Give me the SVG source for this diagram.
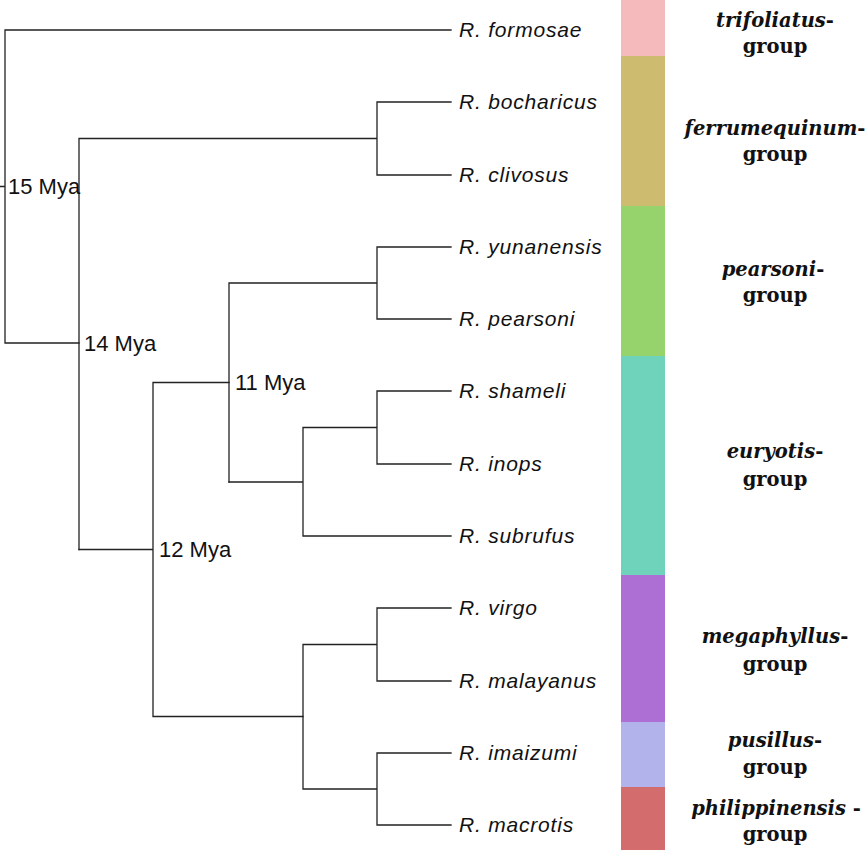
<svg xmlns="http://www.w3.org/2000/svg" width="867" height="850" viewBox="0 0 867 850">
<style>
.e{stroke:#222;stroke-width:1.3;fill:none;stroke-linecap:square}
.tip{font-family:"Liberation Sans",Arial,sans-serif;font-style:italic;font-size:21px;letter-spacing:0.8px;fill:#111}
.age{font-family:"Liberation Sans",Arial,sans-serif;font-size:22px;fill:#111}
.grp{font-family:"DejaVu Serif",serif;font-weight:bold;font-size:19.5px;fill:#111;text-anchor:middle}
.grp .i{font-style:italic}
</style>
<rect width="867" height="850" fill="#fff"/>
<g id="connectors">
<path class="e" d="M0,186.5H5M5,30V343M5,30H451M5,343H79"/>
<path class="e" d="M79,138.5V549.5M79,138.5H377M377,102V175M377,102H451M377,175H451"/>
<path class="e" d="M79,549.5H153M153,382.5V716.5M153,382.5H229M153,716.5H303"/>
<path class="e" d="M229,283V482M229,283H377M377,247V319M377,247H451M377,319H451"/>
<path class="e" d="M229,482H303M303,427.5V536M303,427.5H377M303,536H451M377,391V464M377,391H451M377,464H451"/>
<path class="e" d="M303,644.5V789M303,644.5H377M303,789H377M377,608V681M377,608H451M377,681H451M377,753V825M377,753H451M377,825H451"/>
</g>
<g id="ages">
<text class="age" x="8" y="194">15 Mya</text>
<text class="age" x="84" y="351">14 Mya</text>
<text class="age" x="235" y="390">11 Mya</text>
<text class="age" x="159" y="557">12 Mya</text>
</g>
<g id="tip-formosae"><text class="tip" x="459" y="37">R. formosae</text></g>
<g id="tip-bocharicus"><text class="tip" x="459" y="109">R. bocharicus</text></g>
<g id="tip-clivosus"><text class="tip" x="459" y="182">R. clivosus</text></g>
<g id="tip-yunanensis"><text class="tip" x="459" y="254">R. yunanensis</text></g>
<g id="tip-pearsoni"><text class="tip" x="459" y="326">R. pearsoni</text></g>
<g id="tip-shameli"><text class="tip" x="459" y="398">R. shameli</text></g>
<g id="tip-inops"><text class="tip" x="459" y="471">R. inops</text></g>
<g id="tip-subrufus"><text class="tip" x="459" y="543">R. subrufus</text></g>
<g id="tip-virgo"><text class="tip" x="459" y="615">R. virgo</text></g>
<g id="tip-malayanus"><text class="tip" x="459" y="688">R. malayanus</text></g>
<g id="tip-imaizumi"><text class="tip" x="459" y="760">R. imaizumi</text></g>
<g id="tip-macrotis"><text class="tip" x="459" y="832">R. macrotis</text></g>
<g id="bars">
<rect x="621" y="0" width="44" height="56" fill="#F5BABB"/>
<rect x="621" y="56" width="44" height="150" fill="#CDBB6F"/>
<rect x="621" y="206" width="44" height="150" fill="#97D36D"/>
<rect x="621" y="356" width="44" height="219" fill="#6FD3BC"/>
<rect x="621" y="575" width="44" height="147" fill="#AD6FD3"/>
<rect x="621" y="722" width="44" height="65" fill="#B3B3EC"/>
<rect x="621" y="787" width="44" height="63" fill="#D36C6C"/>
</g>
<g id="group-trifoliatus"><text class="grp" x="775" y="27"><tspan class="i">trifoliatus</tspan>-</text><text class="grp" x="775" y="53">group</text></g>
<g id="group-ferrumequinum"><text class="grp" x="775" y="135"><tspan class="i">ferrumequinum</tspan>-</text><text class="grp" x="775" y="161">group</text></g>
<g id="group-pearsoni"><text class="grp" x="773" y="276"><tspan class="i">pearsoni</tspan>-</text><text class="grp" x="775" y="302">group</text></g>
<g id="group-euryotis"><text class="grp" x="775" y="458"><tspan class="i">euryotis</tspan>-</text><text class="grp" x="775" y="486">group</text></g>
<g id="group-megaphyllus"><text class="grp" x="775" y="643"><tspan class="i">megaphyllus</tspan>-</text><text class="grp" x="775" y="671">group</text></g>
<g id="group-pusillus"><text class="grp" x="775" y="747"><tspan class="i">pusillus</tspan>-</text><text class="grp" x="775" y="774">group</text></g>
<g id="group-philippinensis"><text class="grp" x="776" y="815"><tspan class="i">philippinensis</tspan> -</text><text class="grp" x="775" y="841">group</text></g>
</svg>
